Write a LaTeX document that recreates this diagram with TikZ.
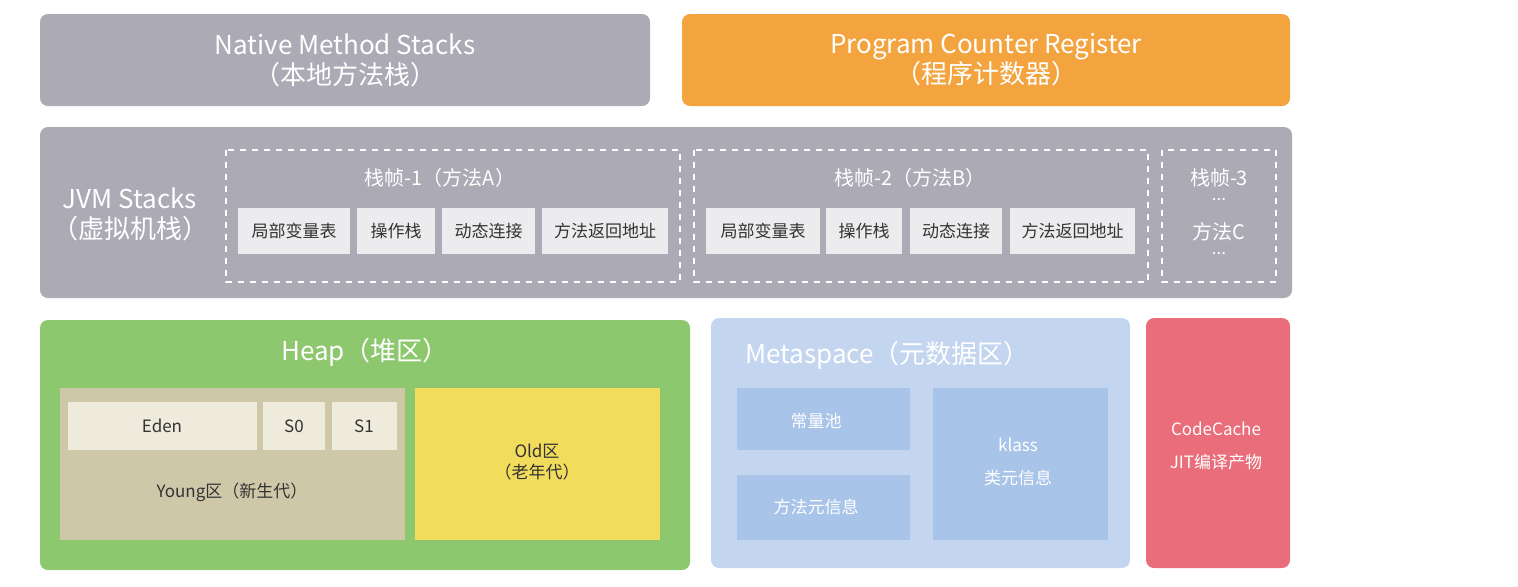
\documentclass[tikz,border=0pt]{standalone}
\usepackage{fontspec}
\setmainfont{Noto Sans CJK SC}
\begin{document}
\begin{tikzpicture}[x=0.5pt,y=-0.5pt,
  blk/.style={rounded corners=4pt,inner sep=0},
  ttl/.style={text=white,font=\fontsize{13}{15}\selectfont,align=center},
  frm/.style={draw=white,dashed,line width=0.8pt},
  sm/.style={font=\fontsize{8.5}{10.5}\selectfont,align=center},
  md/.style={font=\fontsize{10}{12}\selectfont,align=center}]
\definecolor{stackgray}{HTML}{ABAAB5}
\definecolor{itemgray}{HTML}{ECECEE}
\definecolor{pcorange}{HTML}{F3A43F}
\definecolor{heapgreen}{HTML}{8DC76E}
\definecolor{youngc}{HTML}{CEC8A9}
\definecolor{edenc}{HTML}{EEEBDC}
\definecolor{oldc}{HTML}{F2DC5C}
\definecolor{metac}{HTML}{C4D6EF}
\definecolor{metabox}{HTML}{A9C4E9}
\definecolor{codec}{HTML}{E96D7A}
\useasboundingbox (0,0) rectangle (1518,586);
% top
\fill[stackgray,blk] (40,14) rectangle (650,106);
\node[ttl] (nms) at (345,60) {Native Method Stacks\\（本地方法栈）};
\fill[pcorange,blk] (682,14) rectangle (1290,106);
\node[ttl] (pcr) at (986,60) {Program Counter Register\\（程序计数器）};
% JVM stacks
\fill[stackgray,blk] (40,127) rectangle (1292,298);
\node[ttl] (jvm) at (130,214) {JVM Stacks\\（虚拟机栈）};
\draw[frm] (226,150) rectangle (680,282);
\node[md,text=white] (f1) at (440,178) {栈帧-1（方法A）};
\draw[frm] (694,150) rectangle (1148,282);
\node[md,text=white] (f2) at (910,178) {栈帧-2（方法B）};
\draw[frm] (1162,150) rectangle (1276,282);
\node[md,text=white] (f3) at (1219,178) {栈帧-3};
\node[sm,text=white] (d1) at (1219,200) {...};
\node[md,text=white] (f3c) at (1219,232) {方法C};
\node[sm,text=white] (d2) at (1219,254) {...};
\foreach \a/\b/\t/\n in {238/350/局部变量表/a1,357/435/操作栈/a2,442/535/动态连接/a3,542/668/方法返回地址/a4,706/820/局部变量表/b1,826/902/操作栈/b2,910/1002/动态连接/b3,1010/1135/方法返回地址/b4}{
  \fill[itemgray] (\a,208) rectangle (\b,254);
  \node[sm,text=black!80] (\n) at ({(\a+\b)/2},231) {\t};
}
% heap
\fill[heapgreen,blk] (40,320) rectangle (690,570);
\node[ttl] (heap) at (365,352) {Heap（堆区）};
\fill[youngc] (60,388) rectangle (405,540);
\fill[edenc] (68,402) rectangle (257,450);
\fill[edenc] (263,402) rectangle (325,450);
\fill[edenc] (332,402) rectangle (397,450);
\node[sm,text=black!80] (eden) at (162,426) {Eden};
\node[sm,text=black!80] (s0) at (294,426) {S0};
\node[sm,text=black!80] (s1) at (364,426) {S1};
\node[sm,text=black!80] (young) at (232,492) {Young区（新生代）};
\fill[oldc] (415,388) rectangle (660,540);
\node[sm,text=black!80] (old) at (537,462) {Old区\\（老年代）};
% metaspace
\fill[metac,blk] (711,318) rectangle (1130,568);
\node[ttl,anchor=west] (meta) at (738,355) {Metaspace（元数据区）};
\fill[metabox] (737,388) rectangle (910,450);
\fill[metabox] (737,475) rectangle (910,540);
\fill[metabox] (933,388) rectangle (1108,540);
\node[sm,text=white] (cp) at (816,421) {常量池};
\node[sm,text=white] (mm) at (816,507) {方法元信息};
\node[sm,text=white,align=center] (kl) at (1018,462) {klass\\[6pt]类元信息};
% codecache
\fill[codec,blk] (1146,318) rectangle (1290,568);
\node[sm,text=white] (cc) at (1216,446) {CodeCache\\[6pt]JIT编译产物};
\end{tikzpicture}
\end{document}
